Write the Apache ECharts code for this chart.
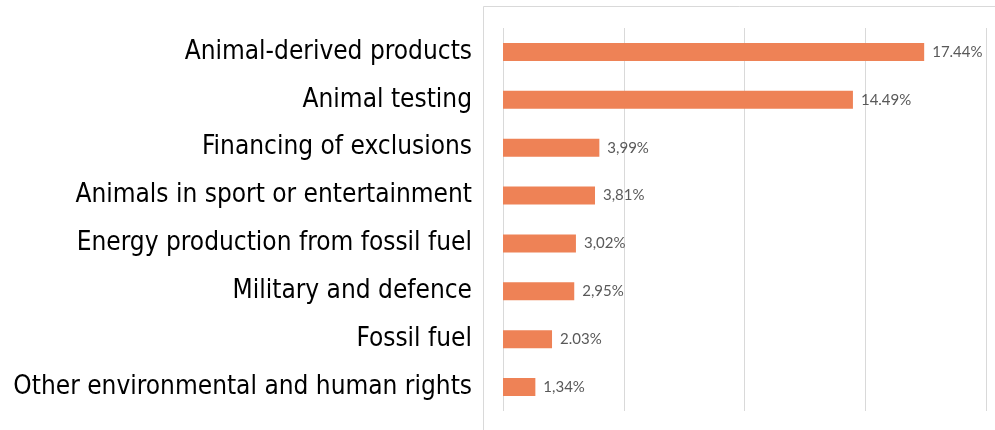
<!DOCTYPE html>
<html><head><meta charset="utf-8">
<script src="https://cdn.jsdelivr.net/npm/echarts@6/dist/echarts.min.js"></script>
<style>html,body{margin:0;padding:0;background:#fff}#c{width:995px;height:430px}</style>
</head><body><div id="c"></div>
<script>
const categories = [
  "Animal-derived products",
  "Animal testing",
  "Financing of exclusions",
  "Animals in sport or entertainment",
  "Energy production from fossil fuel",
  "Military and defence",
  "Fossil fuel",
  "Other environmental and human rights"
];
const values = [17.44, 14.49, 3.99, 3.81, 3.02, 2.95, 2.03, 1.34];
const valueLabels = ["17.44%", "14.49%", "3,99%", "3,81%", "3,02%", "2,95%", "2.03%", "1,34%"];

const chart = echarts.init(document.getElementById('c'));
chart.setOption({
  animation: false,
  backgroundColor: '#fff',
  graphic: [{
    type: 'rect', left: 483, top: 6, z: -1,
    shape: {width: 520, height: 430},
    style: {fill: '#fff', stroke: '#d9d9d9', lineWidth: 1}
  }],
  grid: {left: 503, right: 9, top: 28, bottom: 19, containLabel: false},
  xAxis: {
    type: 'value', min: 0, max: 20, interval: 5,
    axisLabel: {show: false}, axisLine: {show: false}, axisTick: {show: false},
    splitLine: {show: true, lineStyle: {color: '#d9d9d9', width: 1}}
  },
  yAxis: {
    type: 'category', inverse: true, data: categories,
    axisLine: {show: false}, axisTick: {show: false},
    axisLabel: {
      margin: 31, color: '#000', fontSize: 26,
      fontFamily: 'DejaVu Sans Condensed'
    }
  },
  series: [{
    type: 'bar', data: values, barWidth: 18,
    itemStyle: {color: '#EE8256'},
    label: {
      show: true, position: 'right', distance: 8,
      color: '#595959', fontSize: 15, fontFamily: 'Lato',
      formatter: p => valueLabels[p.dataIndex]
    }
  }]
});
</script></body></html>
